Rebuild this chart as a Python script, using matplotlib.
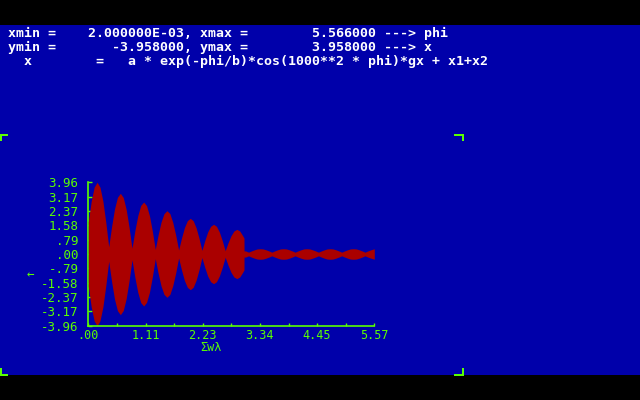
import numpy as np
import matplotlib.pyplot as plt
from matplotlib.lines import Line2D
from matplotlib.patches import Rectangle

BLUE = '#0000AA'
RED = '#AA0000'
GREEN = '#5AFF00'

xmin, xmax = 2.0e-03, 5.566
ymin, ymax = -3.958, 3.958

header = [
    " xmin =    2.000000E-03, xmax =        5.566000 ---> phi",
    " ymin =       -3.958000, ymax =        3.958000 ---> x",
    "   x        =   a * exp(-phi/b)*cos(1000**2 * phi)*gx + x1+x2",
]
xtick_labels = [".00", "1.11", "2.23", "3.34", "4.45", "5.57"]
ytick_labels = ["-3.96", "-3.17", "-2.37", "-1.58", "-.79", ".00",
                ".79", "1.58", "2.37", "3.17", "3.96"]
xlabel = "\u03a3w\u03bb"
ylabel = "\u2190"

# envelope of the trace (half height)
phi = [0.002, 0.059, 0.116, 0.173, 0.229, 0.286, 0.342, 0.399,
       0.456, 0.512, 0.569, 0.626, 0.682, 0.739, 0.795, 0.852,
       0.909, 0.965, 1.022, 1.079, 1.135, 1.192, 1.248, 1.305,
       1.362, 1.418, 1.475, 1.532, 1.589, 1.645, 1.702, 1.759,
       1.816, 1.872, 1.929, 1.986, 2.042, 2.099, 2.155, 2.212,
       2.269, 2.325, 2.382, 2.439, 2.495, 2.552, 2.608, 2.665,
       2.722, 2.778, 2.835, 2.892, 2.948, 3.005, 3.031, 3.032, 3.062, 3.119,
       3.176, 3.232, 3.289, 3.346, 3.402, 3.459, 3.515, 3.572,
       3.629, 3.685, 3.742, 3.799, 3.855, 3.912, 3.968, 4.025,
       4.082, 4.138, 4.195, 4.252, 4.309, 4.365, 4.422, 4.479,
       4.536, 4.592, 4.649, 4.706, 4.762, 4.819, 4.875, 4.932,
       4.989, 5.045, 5.102, 5.159, 5.215, 5.272, 5.328, 5.385,
       5.442, 5.498, 5.555, 5.566]
amp = [1.78, 2.92, 3.69, 3.96, 3.69, 2.92, 1.76, 0.40,
       1.53, 2.49, 3.13, 3.35, 3.12, 2.46, 1.48, 0.32,
       1.30, 2.12, 2.68, 2.87, 2.67, 2.11, 1.26, 0.26,
       1.08, 1.77, 2.23, 2.39, 2.23, 1.75, 1.05, 0.22,
       0.89, 1.46, 1.84, 1.97, 1.84, 1.45, 0.88, 0.20,
       0.75, 1.22, 1.53, 1.64, 1.53, 1.21, 0.74, 0.18,
       0.63, 1.01, 1.27, 1.36, 1.27, 1.01, 0.88, 0.17, 0.17, 0.10,
       0.17, 0.23, 0.28, 0.29, 0.28, 0.23, 0.17, 0.10,
       0.17, 0.23, 0.28, 0.29, 0.28, 0.23, 0.17, 0.10,
       0.17, 0.23, 0.28, 0.29, 0.28, 0.23, 0.17, 0.10,
       0.17, 0.23, 0.28, 0.29, 0.28, 0.23, 0.17, 0.10,
       0.17, 0.23, 0.28, 0.29, 0.28, 0.23, 0.17, 0.10,
       0.17, 0.23, 0.28, 0.28]

W, H = 640, 400
plt.rcParams['font.family'] = ['DejaVu Sans Mono', 'DejaVu Sans']


def fx(px):
    return px / W


def fy(py):
    return 1 - py / H


fig = plt.figure(figsize=(6.4, 4), dpi=100, facecolor=BLUE)
fig.add_artist(Rectangle((0, fy(25)), 1, 25 / H, transform=fig.transFigure,
                         color='black', lw=0))
fig.add_artist(Rectangle((0, 0), 1, 25 / H, transform=fig.transFigure,
                         color='black', lw=0))

for i, line in enumerate(header):
    fig.text(0, fy(37.5 + 14 * i), line, ha='left', va='baseline',
             color='white', fontsize=9.57, fontweight='bold')

# corner marks
for x0, x1, xv in [(0, 7, 0.5), (455, 463, 462.5)]:
    for yh, yv0, yv1 in [(134.5, 134.5, 140), (374.5, 369, 374.5)]:
        fig.add_artist(Line2D([fx(x0), fx(x1)], [fy(yh), fy(yh)],
                              transform=fig.transFigure, color=GREEN,
                              lw=1.2, antialiased=False))
        fig.add_artist(Line2D([fx(xv), fx(xv)], [fy(yv0), fy(yv1)],
                              transform=fig.transFigure, color=GREEN,
                              lw=1.2, antialiased=False))

ax = fig.add_axes([fx(88.3), fy(325.7), (374.3 - 88.3) / W, (325.7 - 182.3) / H])
ax.set_facecolor('none')
a = np.array(amp)
ax.fill_between(phi, -a, a, color=RED, lw=0, zorder=3)
ax.set_xlim(xmin, xmax)
ax.set_ylim(ymin, ymax)

for s in ['top', 'right']:
    ax.spines[s].set_visible(False)
for s in ['left', 'bottom']:
    ax.spines[s].set_color(GREEN)
    ax.spines[s].set_linewidth(1.2)
ax.spines['bottom'].set_zorder(4)

ax.set_xticks(np.linspace(xmin, xmax, 6), xtick_labels)
ax.set_xticks(np.linspace(xmin, xmax, 11), minor=True)
ax.set_yticks(np.linspace(ymin, ymax, 11), ytick_labels)
ax.tick_params(which='both', direction='in', color=GREEN, width=1,
               labelcolor=GREEN, labelsize=9)
ax.tick_params(axis='x', which='both', length=2.5, pad=2.5, labelsize=8.5)
ax.tick_params(axis='y', length=3, pad=7)

fig.text(fx(200), fy(347.5), xlabel, ha='left', va='center', color=GREEN,
         fontsize=8.5)
fig.text(fx(30), fy(275), ylabel, ha='center', va='center', color=GREEN,
         fontsize=9)

fig.savefig('out.png', dpi=100, facecolor=fig.get_facecolor())
